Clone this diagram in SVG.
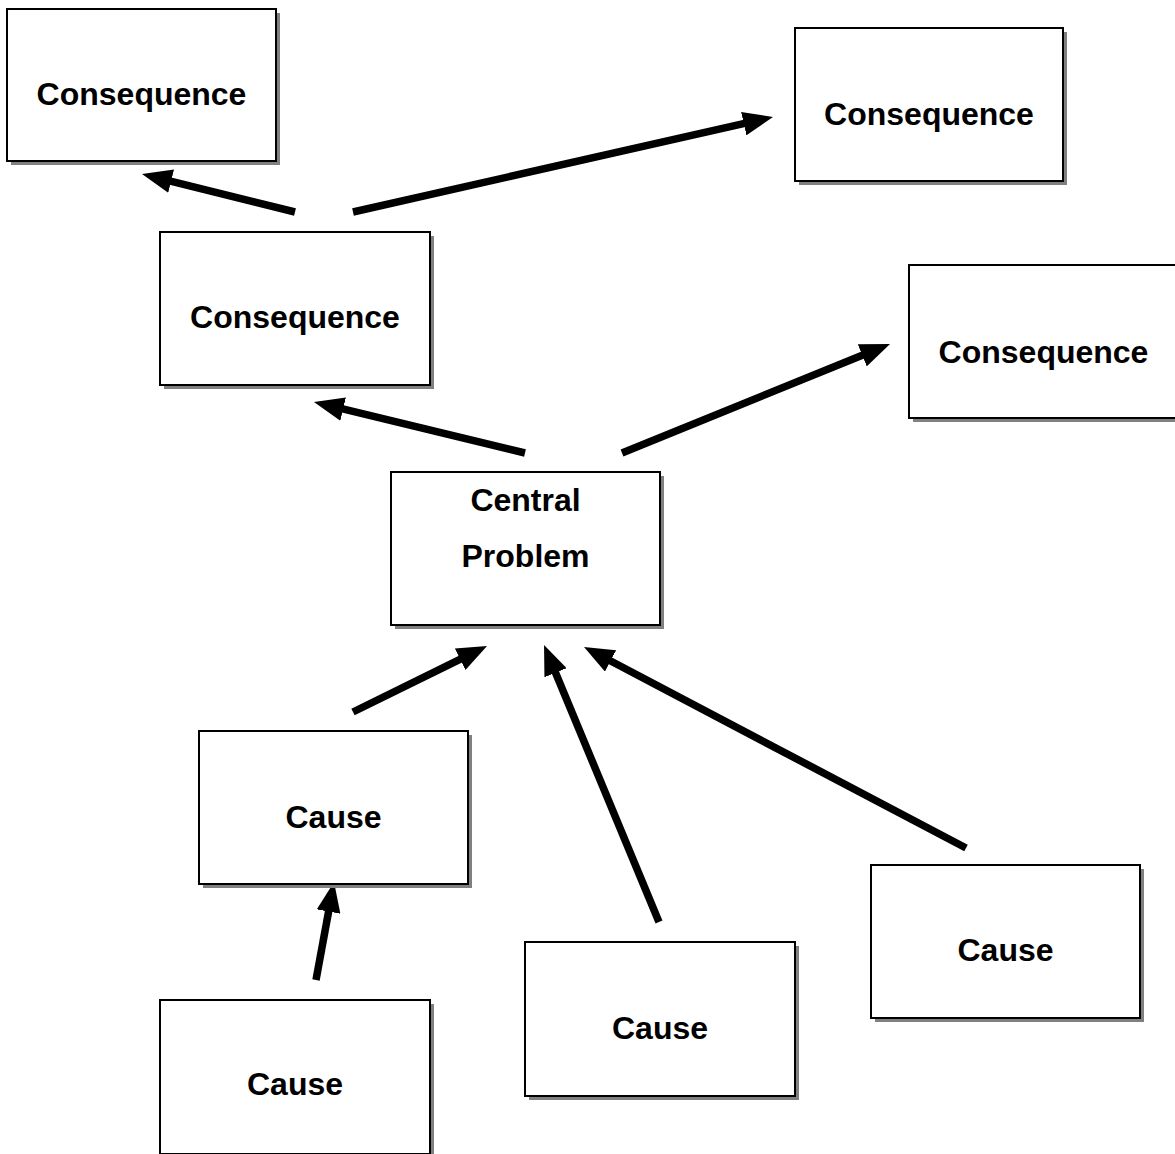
<svg xmlns="http://www.w3.org/2000/svg" width="1175" height="1154" viewBox="0 0 1175 1154">
<style>
.sh{fill:#808080}
.bx{fill:#fff;stroke:#000;stroke-width:2}
.t{font-family:"Liberation Sans",Arial,sans-serif;font-weight:bold;font-size:32px;text-anchor:middle;fill:#000}
.c{stroke:#000;stroke-width:7.5;fill:none;marker-end:url(#ah)}
</style>
<defs>
<marker id="ah" viewBox="0 0 30 24" refX="10" refY="12" markerWidth="30" markerHeight="24" markerUnits="userSpaceOnUse" orient="auto">
<path d="M0,0 L30,12 L0,24 z" fill="#000"/>
</marker>
</defs>
<rect width="1175" height="1154" fill="#fff"/>
<g id="connectors">
<line class="c" x1="295" y1="212" x2="161.4" y2="178.8"/>
<line class="c" x1="353" y1="212" x2="753.5" y2="121.4"/>
<line class="c" x1="525" y1="453" x2="333.4" y2="406.7"/>
<line class="c" x1="622" y1="453" x2="871.5" y2="351.5"/>
<line class="c" x1="353" y1="712" x2="469.1" y2="654.8"/>
<line class="c" x1="316" y1="980" x2="330.4" y2="901.7"/>
<line class="c" x1="659" y1="922" x2="551.7" y2="663.5"/>
<line class="c" x1="966" y1="848" x2="601.7" y2="656.3"/>
</g>
<g id="cons1"><rect class="sh" x="11" y="13" width="269" height="152"/><rect class="bx" x="7" y="9" width="269" height="152"/><text class="t" x="141.5" y="105">Consequence</text></g>
<g id="cons2"><rect class="sh" x="799" y="32" width="268" height="153"/><rect class="bx" x="795" y="28" width="268" height="153"/><text class="t" x="929" y="125">Consequence</text></g>
<g id="cons3"><rect class="sh" x="164" y="236" width="270" height="153"/><rect class="bx" x="160" y="232" width="270" height="153"/><text class="t" x="295" y="328">Consequence</text></g>
<g id="cons4"><rect class="sh" x="913" y="269" width="269" height="153"/><rect class="bx" x="909" y="265" width="269" height="153"/><text class="t" x="1043.5" y="363">Consequence</text></g>
<g id="central"><rect class="sh" x="395" y="476" width="269" height="153"/><rect class="bx" x="391" y="472" width="269" height="153"/><text class="t" x="525.5" y="511">Central</text><text class="t" x="525.5" y="567">Problem</text></g>
<g id="cause1"><rect class="sh" x="203" y="735" width="269" height="153"/><rect class="bx" x="199" y="731" width="269" height="153"/><text class="t" x="333.5" y="828">Cause</text></g>
<g id="cause2"><rect class="sh" x="164" y="1004" width="270" height="154"/><rect class="bx" x="160" y="1000" width="270" height="154"/><text class="t" x="295" y="1095">Cause</text></g>
<g id="cause3"><rect class="sh" x="529" y="946" width="270" height="154"/><rect class="bx" x="525" y="942" width="270" height="154"/><text class="t" x="660" y="1039">Cause</text></g>
<g id="cause4"><rect class="sh" x="875" y="869" width="269" height="153"/><rect class="bx" x="871" y="865" width="269" height="153"/><text class="t" x="1005.5" y="961">Cause</text></g>
</svg>
